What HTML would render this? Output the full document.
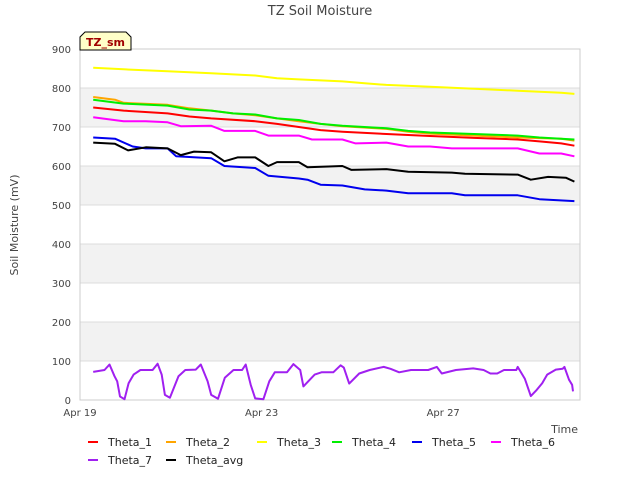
<!DOCTYPE html>
<html><head><meta charset="utf-8"><style>
body{margin:0;background:#fff;font-family:"Liberation Sans","DejaVu Sans",sans-serif;}
svg text{font-family:"DejaVu Sans","Liberation Sans",sans-serif;}
</style></head><body>
<svg id="c" width="640" height="480">
<text x="320" y="15" text-anchor="middle" font-size="13" fill="#444">TZ Soil Moisture</text>
<g id="bands"></g><g id="axes"></g><g id="series"></g><g id="legend"></g>
<text transform="translate(18,225) rotate(-90)" text-anchor="middle" font-size="11" fill="#444">Soil Moisture (mV)</text>
<text x="578" y="433" text-anchor="end" font-size="11" fill="#444">Time</text>
<g>
<path d="M80,50 L80,37 L85,32 L126,32 L131,37 L131,50 Z" fill="#ffffc8" stroke="#000" stroke-width="1"/>
<text x="105.5" y="46" text-anchor="middle" font-size="11" font-weight="bold" fill="#a00000">TZ_sm</text>
</g>
</svg>
<script>
const yTicks=[0,100,200,300,400,500,600,700,800,900];
const xTickDays=[0,4,8];
const xTickLabels=["Apr 19","Apr 23","Apr 27"];
const seriesNames=["Theta_1","Theta_2","Theta_3","Theta_4","Theta_5","Theta_6","Theta_7","Theta_avg"];
const seriesColors=["#ff0000","#ffa500","#ffff00","#00ee00","#0000ee","#ff00ff","#a020f0","#000000"];
const t1=[0.29,0.96,1.93,2.41,2.89,3.86,4.34,4.82,5.30,5.78,6.75,7.71,8.68,9.64,10.12,10.6,10.89];
const v1=[750,742,735,727,722,715,708,700,692,688,682,677,672,668,663,658,652];
const t2=[0.29,0.77,0.96,1.93,2.41,2.89,3.37,3.86,4.34,4.82,5.30,5.78,6.75,7.23,7.71,8.68,9.64,10.6,10.89];
const v2=[777,770,762,757,748,742,735,730,722,715,708,702,695,688,683,678,673,670,665];
const t3=[0.29,0.96,1.93,2.89,3.86,4.34,4.82,5.78,6.27,6.75,7.71,8.68,9.64,10.6,10.89];
const v3=[852,848,843,838,832,825,822,817,812,808,803,798,793,788,785];
const t4=[0.29,0.96,1.93,2.41,2.89,3.37,3.86,4.34,4.82,5.30,5.78,6.75,7.23,7.71,8.68,9.64,10.12,10.6,10.89];
const v4=[770,760,755,745,742,735,732,722,718,708,703,697,690,686,682,678,673,670,668];
const t5=[0.29,0.77,1.16,1.45,1.93,2.12,2.89,3.18,3.86,4.15,4.82,5.01,5.30,5.78,6.27,6.75,7.23,8.19,8.48,9.64,10.12,10.89];
const v5=[673,670,650,645,645,625,620,600,595,575,568,565,552,550,540,537,530,530,525,525,515,510];
const t6=[0.29,0.96,1.45,1.93,2.22,2.89,3.18,3.86,4.15,4.82,5.11,5.78,6.07,6.75,7.23,7.71,8.19,9.64,10.12,10.6,10.89];
const v6=[725,715,715,712,702,703,690,690,678,678,668,668,658,660,650,650,645,645,632,632,625];
const t7=[0.29,0.54,0.65,0.76,0.82,0.88,0.98,1.07,1.18,1.33,1.60,1.71,1.80,1.87,1.98,2.17,2.32,2.55,2.66,2.81,2.89,3.04,3.19,3.38,3.57,3.65,3.76,3.86,4.04,4.17,4.29,4.56,4.70,4.85,4.92,5.17,5.32,5.58,5.74,5.81,5.93,6.15,6.38,6.69,6.84,7.03,7.29,7.67,7.86,7.97,8.28,8.66,8.89,9.04,9.19,9.34,9.61,9.64,9.80,9.93,10.06,10.18,10.29,10.48,10.63,10.67,10.77,10.84,10.86];
const v7=[72,77,91,61,48,9,2,43,65,77,77,93,65,13,6,61,77,78,91,48,13,3,57,77,77,91,39,4,2,48,71,71,92,77,35,65,71,71,89,83,42,68,77,85,80,71,77,77,85,68,77,81,77,68,68,77,77,85,54,10,26,43,65,78,80,85,52,39,22];
const tA=[0.29,0.77,1.06,1.45,1.93,2.22,2.51,2.89,3.18,3.47,3.86,4.15,4.34,4.82,5.01,5.78,5.98,6.75,7.23,8.19,8.48,9.64,9.93,10.31,10.7,10.89];
const vA=[660,657,640,648,645,628,637,635,612,622,622,600,610,610,597,600,590,592,585,583,580,578,565,572,570,560];
const L=80,R=580,T=49,B=400,PX=45.4;
const X=t=>L+t*PX, Y=v=>B-(v/900)*(B-T);
const NS="http://www.w3.org/2000/svg";
function mk(tag,attrs,parent){const e=document.createElementNS(NS,tag);for(const k in attrs)e.setAttribute(k,attrs[k]);parent.appendChild(e);return e;}
const bands=document.getElementById('bands'),axes=document.getElementById('axes'),ser=document.getElementById('series'),leg=document.getElementById('legend');
for(let i=0;i<yTicks.length-1;i++){
  const lo=yTicks[i],hi=yTicks[i+1];
  const b=mk('rect',{x:L,y:Y(hi),width:R-L,height:Y(lo)-Y(hi),fill:(i%2===1)?'#f2f2f2':'#ffffff'},bands);
  
  
}
yTicks.forEach(v=>{
  const g=mk('line',{x1:L,x2:R,y1:Y(v),y2:Y(v),stroke:'#dcdcdc','stroke-width':1},axes);
  
  
  const t=mk('text',{x:L-9,y:Y(v)+4,'text-anchor':'end','font-size':10,fill:'#444'},axes);
  t.textContent=v;
  
  
});
mk('rect',{x:L,y:T,width:R-L,height:B-T,fill:'none',stroke:'#ccc'},axes);
xTickDays.forEach((d,i)=>{
  const t=mk('text',{x:X(d),y:B+16,'text-anchor':'middle','font-size':10,fill:'#444'},axes);
  t.textContent=xTickLabels[i];
  
  
});
const allT=[t1,t2,t3,t4,t5,t6,t7,tA],allV=[v1,v2,v3,v4,v5,v6,v7,vA];
allT.forEach((ts,i)=>{
  const pts=ts.map((t,j)=>X(t).toFixed(1)+','+Y(allV[i][j]).toFixed(1)).join(' ');
  const p=mk('polyline',{points:pts,fill:'none',stroke:seriesColors[i],'stroke-width':2,'stroke-linejoin':'round'},ser);
  
  
});
const legX=[[88,108],[166,186],[257,277],[332,352],[412,432],[491,511],[88,108],[166,186]];
seriesNames.forEach((n,i)=>{
  const y=i<6?442:460;
  const g=mk('g',{},leg);
  
  
  mk('line',{x1:legX[i][0],x2:legX[i][0]+10,y1:y,y2:y,stroke:seriesColors[i],'stroke-width':2},g);
  const t=mk('text',{x:legX[i][1],y:y+4,'font-size':11,fill:'#222'},g);
  t.textContent=n;
});
</script>
</body></html>
